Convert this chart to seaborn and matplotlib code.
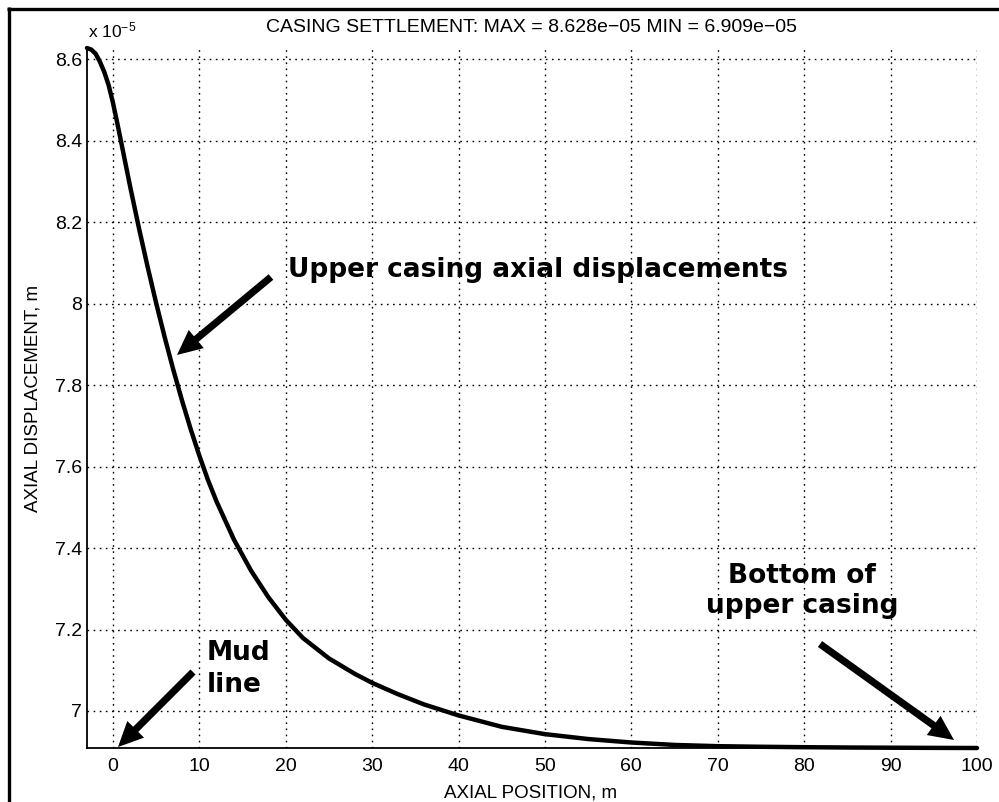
import matplotlib
matplotlib.use("Agg")
import matplotlib.pyplot as plt
import seaborn as sns
import pandas as pd
from matplotlib.lines import Line2D

# ---------------- data (displacement in units of 1e-5 m) ----------------
axial_position = [-3, -2.5, -2, -1.5, -1, -0.5, 0, 0.5, 1, 2, 3, 4, 5, 6, 7, 8, 9, 10,
                  11, 12, 14, 16, 18, 20, 22, 25, 28, 30, 33, 36, 40, 45, 50, 55, 60,
                  65, 70, 75, 80, 85, 90, 95, 100]
axial_displacement = [8.628, 8.624, 8.614, 8.594, 8.569, 8.537, 8.494, 8.444, 8.392,
                      8.287, 8.187, 8.092, 8.002, 7.917, 7.837, 7.762, 7.692, 7.627,
                      7.567, 7.514, 7.421, 7.344, 7.279, 7.224, 7.179, 7.129, 7.091,
                      7.069, 7.041, 7.016, 6.989, 6.961, 6.943, 6.931, 6.9225,
                      6.9165, 6.9135, 6.912, 6.911, 6.9102, 6.9097, 6.9093, 6.909]
x_ticks = [0, 10, 20, 30, 40, 50, 60, 70, 80, 90, 100]
y_ticks = [7.0, 7.2, 7.4, 7.6, 7.8, 8.0, 8.2, 8.4, 8.6]
y_tick_labels = ["7", "7.2", "7.4", "7.6", "7.8", "8", "8.2", "8.4", "8.6"]
y_min, y_max = 6.909, 8.628
x_min, x_max = -3, 100

title_text = "CASING SETTLEMENT: MAX = 8.628e\u221205 MIN = 6.909e\u221205"
x_label = "AXIAL POSITION, m"
y_label = "AXIAL DISPLACEMENT, m"
exp_label = r"x 10$^{\mathregular{-5}}$"

# ---------------- style ----------------
sns.set_theme(style="white")
plt.rcParams["font.family"] = ["Liberation Sans", "DejaVu Sans"]
plt.rcParams["mathtext.fontset"] = "custom"
plt.rcParams["mathtext.rm"] = "Liberation Sans"
plt.rcParams["mathtext.it"] = "Liberation Sans:italic"
plt.rcParams["mathtext.bf"] = "Liberation Sans:bold"

W, H = 999, 802
fig = plt.figure(figsize=(W / 100, H / 100), dpi=100)
fig.patch.set_facecolor("white")

def fx(px):
    return px / W

def fy(py):
    return 1 - py / H

ax = fig.add_axes([fx(87), fy(748), fx(977) - fx(87), fy(48) - fy(748)])
ax.set_facecolor("white")

df = pd.DataFrame({"pos": axial_position, "disp": axial_displacement})
sns.lineplot(data=df, x="pos", y="disp", ax=ax, color="black", linewidth=3.2,
             sort=False, clip_on=False, zorder=3)

ax.set_xlim(x_min, x_max)
ax.set_ylim(y_min, y_max)
ax.set_xticks(x_ticks)
ax.set_yticks(y_ticks)
ax.set_yticklabels(y_tick_labels)
ax.set_xlabel("")
ax.set_ylabel("")

ax.grid(True, color="black", linestyle=(0, (1.2, 3.2)), linewidth=1.0)
ax.set_axisbelow(True)
for s in ["top", "right"]:
    ax.spines[s].set_visible(False)
for s in ["left", "bottom"]:
    ax.spines[s].set_color("black")
    ax.spines[s].set_linewidth(1.3)

ax.tick_params(axis="both", direction="in", length=6, width=1.2, colors="black",
               labelsize=14)
ax.tick_params(axis="y", pad=3.5)
ax.tick_params(axis="x", pad=7)

# ---------------- texts ----------------
fig.text(fx(531), fy(32), title_text, ha="center", va="baseline", fontsize=14,
         color="black")
fig.text(fx(88), fy(37), exp_label, ha="left", va="baseline", fontsize=12.5,
         color="black")
fig.text(fx(531), fy(797), x_label, ha="center", va="baseline", fontsize=13.5,
         color="black")
fig.text(fx(33), fy(398), y_label, ha="center", va="center", rotation=90,
         fontsize=13.5, color="black")

bold = dict(fontfamily="DejaVu Sans", fontweight="bold", fontsize=19,
            color="black")
fig.text(fx(288), fy(277), "Upper casing axial displacements", ha="left",
         va="baseline", **bold)
fig.text(fx(207), fy(660), "Mud", ha="left", va="baseline", **bold)
fig.text(fx(207), fy(692), "line", ha="left", va="baseline", **bold)
fig.text(fx(802), fy(583), "Bottom of", ha="center", va="baseline", **bold)
fig.text(fx(802), fy(613), "upper casing", ha="center", va="baseline", **bold)

# ---------------- arrows ----------------
arrow_style = "simple,head_length=0.9,head_width=0.85,tail_width=0.26"

def arrow(start, tip):
    ax.annotate("", xy=(tip[0], H - tip[1]), xytext=(start[0], H - start[1]),
                xycoords="figure pixels", textcoords="figure pixels",
                arrowprops=dict(arrowstyle=arrow_style, mutation_scale=20,
                                color="black", lw=0, shrinkA=0, shrinkB=0),
                annotation_clip=False, zorder=5)

arrow((271, 277), (177, 355))
arrow((193, 672), (118, 747))
arrow((820, 644), (954, 740))

# ---------------- outer frame (left/top only) ----------------
fig.add_artist(Line2D([fx(8.5), fx(8.5)], [0, fy(7.3)], transform=fig.transFigure,
                      color="black", linewidth=2.4, solid_capstyle="butt"))
fig.add_artist(Line2D([fx(7.3), fx(W + 5)], [fy(8.5), fy(8.5)],
                      transform=fig.transFigure, color="black", linewidth=2.4,
                      solid_capstyle="butt"))

fig.savefig("out.png", dpi=100, facecolor="white")
